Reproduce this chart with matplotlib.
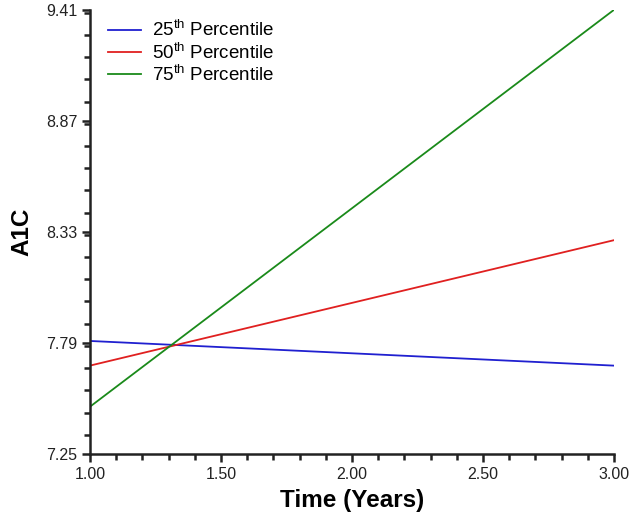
import matplotlib
matplotlib.use('Agg')
import matplotlib.pyplot as plt
from matplotlib.ticker import MultipleLocator, FormatStrFormatter
import numpy as np

plt.rcParams['font.family'] = ['Liberation Sans', 'DejaVu Sans']
plt.rcParams['mathtext.fontset'] = 'custom'
plt.rcParams['mathtext.rm'] = 'Liberation Sans'

time_years = [1.0, 3.0]
series_labels = ['25$^{\\mathrm{th}}$ Percentile',
                 '50$^{\\mathrm{th}}$ Percentile',
                 '75$^{\\mathrm{th}}$ Percentile']
a1c_25 = [7.80, 7.68]
a1c_50 = [7.68, 8.29]
a1c_75 = [7.48, 9.41]
series_colors = ['#2020d0', '#e02020', '#1a8a1a']

y_ticks = [7.25, 7.79, 8.33, 8.87, 9.41]
x_ticks = [1.00, 1.50, 2.00, 2.50, 3.00]

fig = plt.figure(figsize=(6.33, 5.16), dpi=100)
ax = fig.add_axes([0.142, 0.120, 0.828, 0.861])

for vals, lab, col in zip([a1c_25, a1c_50, a1c_75], series_labels, series_colors):
    ax.plot(time_years, vals, color=col, lw=1.3, label=lab)

ax.set_xlim(1.0, 3.0)
ax.set_ylim(7.25, 9.41)
ax.set_xticks(x_ticks)
ax.set_yticks(y_ticks)
ax.xaxis.set_minor_locator(MultipleLocator(0.1))
ax.yaxis.set_minor_locator(MultipleLocator(0.108))
ax.xaxis.set_major_formatter(FormatStrFormatter('%.2f'))
ax.yaxis.set_major_formatter(FormatStrFormatter('%.2f'))

for side in ['top', 'right']:
    ax.spines[side].set_visible(False)
for side in ['left', 'bottom']:
    ax.spines[side].set_linewidth(1.8)
    ax.spines[side].set_color('#222222')

ax.tick_params(which='major', direction='out', length=6, width=1.8, labelsize=11.5,
               colors='#222222', pad=3)
ax.tick_params(which='minor', direction='out', length=4, width=1.8, colors='#222222')

ax.set_xlabel('Time (Years)', fontsize=17.5, fontweight='bold', labelpad=5)
ax.set_ylabel('A1C', fontsize=17.5, fontweight='bold', labelpad=9)

ax.legend(loc='upper left', frameon=False, fontsize=13.5, handlelength=1.8,
          bbox_to_anchor=(0.0, 1.018), labelspacing=0.08, handletextpad=0.55,
          borderaxespad=0.55)

plt.savefig('out.png', dpi=100)
plt.close('all')
